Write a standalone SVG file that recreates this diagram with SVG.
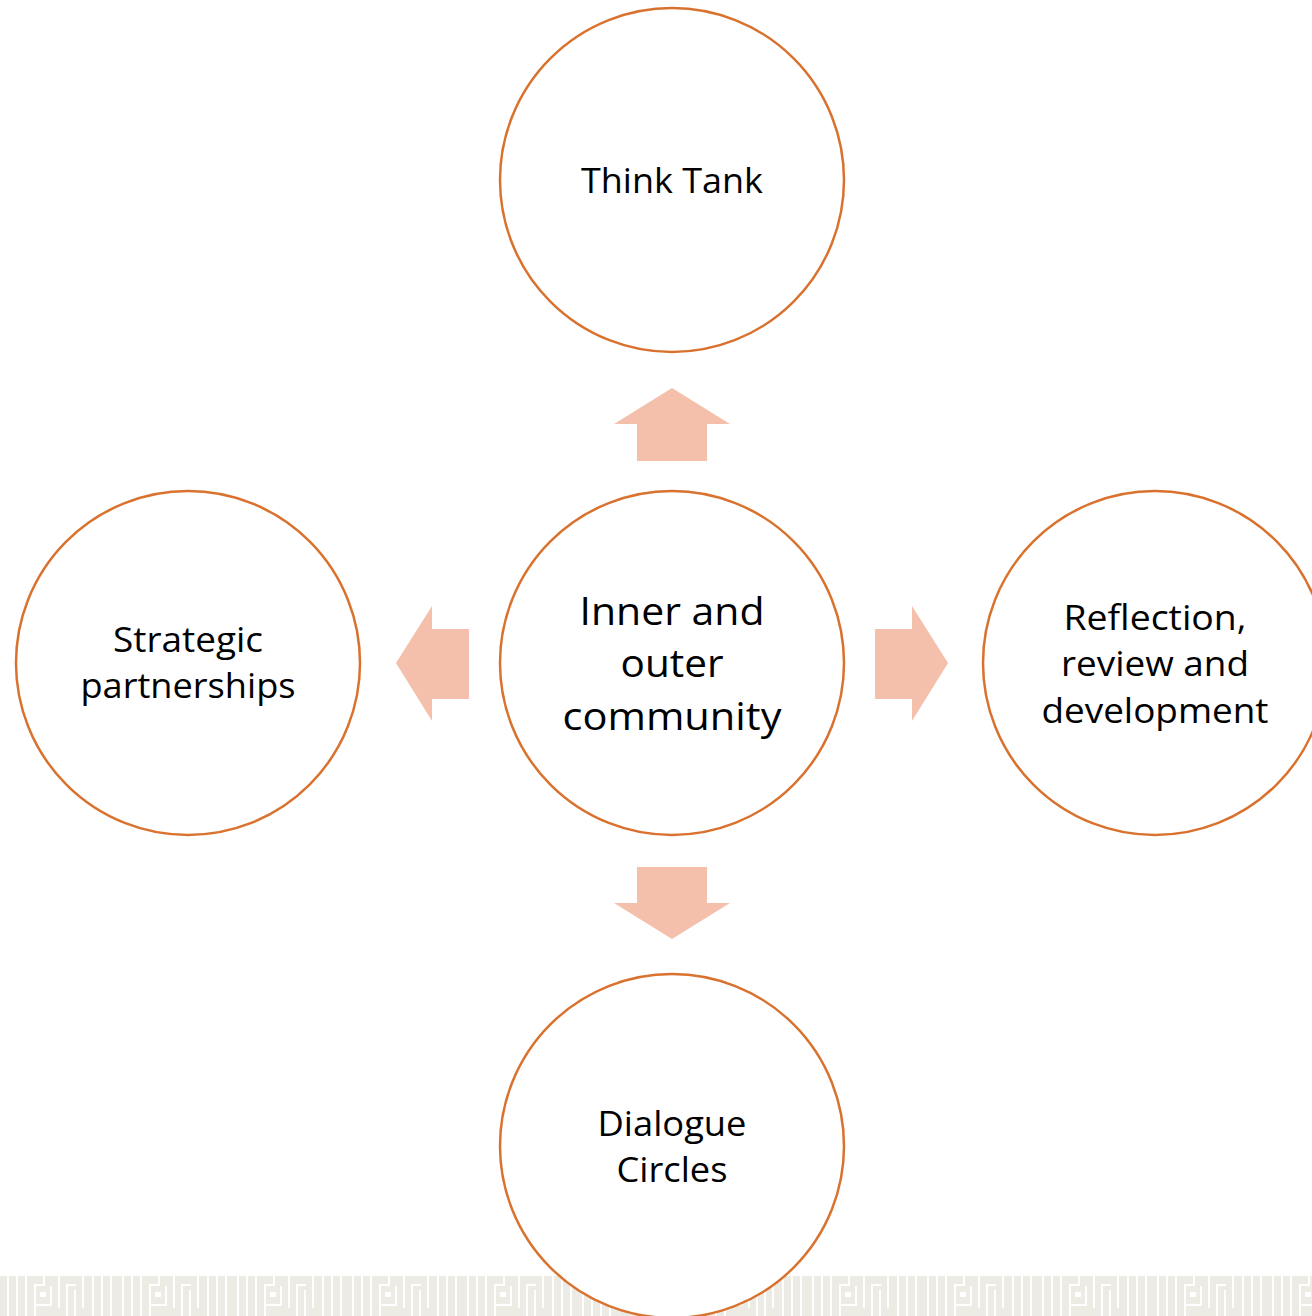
<svg xmlns="http://www.w3.org/2000/svg" width="1312" height="1316" viewBox="0 0 1312 1316">
<style>
.node circle{fill:#ffffff;stroke:#d9722e;stroke-width:2.5}
.node text{font-family:"Open Sans","Liberation Sans",sans-serif;fill:#000;text-anchor:middle}
.t{font-size:35px}
.tc{font-size:39px}
.arrow{fill:#f4c0ab}
</style>
<defs>
<pattern id="kufic" x="0" y="1276" width="115" height="40" patternUnits="userSpaceOnUse">
<rect x="0" y="0" width="115" height="40" fill="#ecebe4"/>
<g fill="#ffffff">
<rect x="7" y="0" width="2" height="40"/>
<rect x="16" y="0" width="2" height="40"/>
<rect x="25" y="0" width="2" height="40"/>
<rect x="34" y="8" width="2" height="32"/>
<rect x="34" y="8" width="11" height="2"/>
<rect x="43" y="0" width="2" height="10"/>
<rect x="40" y="16" width="6" height="5"/>
<rect x="34" y="28" width="16" height="2"/>
<rect x="50" y="10" width="2" height="20"/>
<rect x="58" y="0" width="2" height="32"/>
<rect x="66" y="8" width="2" height="32"/>
<rect x="66" y="8" width="10" height="2"/>
<rect x="74" y="14" width="2" height="26"/>
<rect x="82" y="0" width="2" height="32"/>
<rect x="92" y="0" width="2" height="40"/>
<rect x="101" y="0" width="2" height="40"/>
<rect x="110" y="0" width="2" height="40"/>
</g>
</pattern>
</defs>
<rect x="0" y="0" width="1312" height="1316" fill="#ffffff"/>
<rect x="0" y="1276" width="1312" height="40" fill="url(#kufic)"/>

<g id="connectors">
<polygon class="arrow" points="672,388 730,424 707,424 707,461 637,461 637,424 614,424"/>
<polygon class="arrow" points="396,663 432,606 432,629 469,629 469,699 432,699 432,721"/>
<polygon class="arrow" points="948,663 912,606 912,629 875,629 875,699 912,699 912,721"/>
<polygon class="arrow" points="672,939 730,903 707,903 707,867 637,867 637,903 614,903"/>
</g>

<g id="node-think-tank" class="node">
<circle cx="672" cy="180" r="172"/>
<text class="t" x="672" y="193" textLength="182" lengthAdjust="spacingAndGlyphs">Think Tank</text>
</g>

<g id="node-community" class="node">
<circle cx="672" cy="663" r="172"/>
<text class="tc" x="672" y="625" textLength="185" lengthAdjust="spacingAndGlyphs">Inner and</text>
<text class="tc" x="672" y="677" textLength="103" lengthAdjust="spacingAndGlyphs">outer</text>
<text class="tc" x="672" y="730" textLength="219" lengthAdjust="spacingAndGlyphs">community</text>
</g>

<g id="node-strategic" class="node">
<circle cx="188" cy="663" r="172"/>
<text class="t" x="188" y="652" textLength="150" lengthAdjust="spacingAndGlyphs">Strategic</text>
<text class="t" x="188" y="698" textLength="215" lengthAdjust="spacingAndGlyphs">partnerships</text>
</g>

<g id="node-reflection" class="node">
<circle cx="1155" cy="663" r="172"/>
<text class="t" x="1155" y="630" textLength="183" lengthAdjust="spacingAndGlyphs">Reflection,</text>
<text class="t" x="1155" y="676" textLength="188" lengthAdjust="spacingAndGlyphs">review and</text>
<text class="t" x="1155" y="723" textLength="227" lengthAdjust="spacingAndGlyphs">development</text>
</g>

<g id="node-dialogue" class="node">
<circle cx="672" cy="1146" r="172"/>
<text class="t" x="672" y="1136" textLength="149" lengthAdjust="spacingAndGlyphs">Dialogue</text>
<text class="t" x="672" y="1182" textLength="111" lengthAdjust="spacingAndGlyphs">Circles</text>
</g>
</svg>
